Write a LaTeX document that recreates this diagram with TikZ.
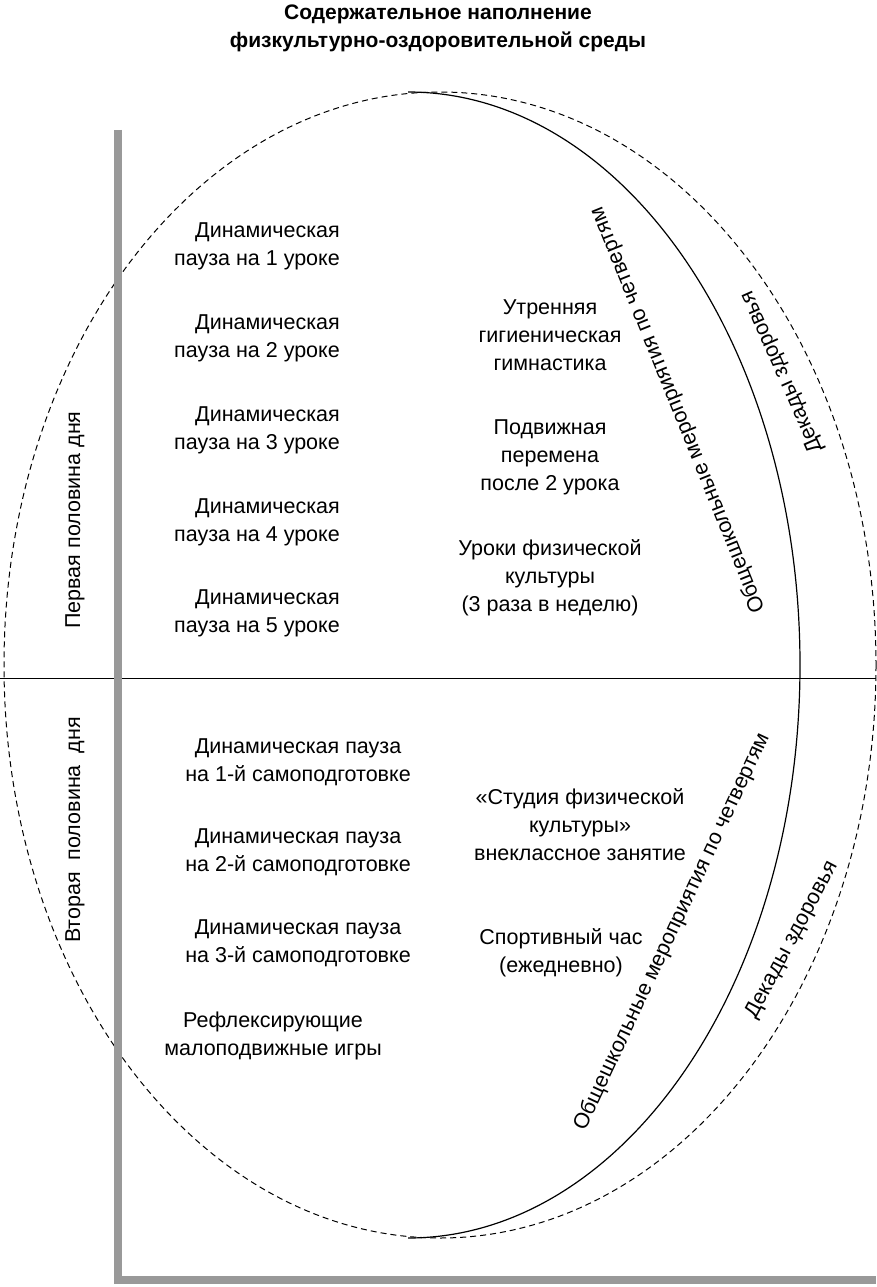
\documentclass[tikz,border=0pt]{standalone}
\usepackage{fontspec}
\setmainfont{Liberation Sans}
\begin{document}
\begin{tikzpicture}[x=1pt,y=-1pt,
 txt/.style={font=\fontsize{21.5}{28}\selectfont,align=center,inner sep=0pt},
 rtxt/.style={font=\fontsize{21.5}{28}\selectfont,align=right,inner sep=0pt,anchor=east},
 bar/.style={draw=gray!80,line width=8pt}]
\useasboundingbox (0,0) rectangle (876,1287);
\node[txt,font=\fontsize{21}{28}\selectfont\bfseries] (title) at (438,28) {Содержательное наполнение\\физкультурно-оздоровительной среды};
\draw[dashed,line width=1pt,dash pattern=on 6pt off 4pt] (440,665) ellipse [x radius=436, y radius=573];
\draw[line width=1.2pt] (408,92) arc [start angle=-90, end angle=90, x radius=392, y radius=573];
\draw[line width=1pt] (0,678) -- (876,678);
\coordinate (vt) at (118,130); \coordinate (vb) at (118,1280); \coordinate (hr) at (876,1280);
\draw[bar] (vt) -- (vb) -- (hr);
\node[txt,rotate=90] (p1) at (75,520) {Первая половина дня};
\node[txt,rotate=90] (p2) at (75,830) {Вторая \ половина \ дня};
\node[rtxt] (d1) at (340,246) {Динамическая\\пауза на 1 уроке};
\node[rtxt] (d2) at (340,338) {Динамическая\\пауза на 2 уроке};
\node[rtxt] (d3) at (340,430) {Динамическая\\пауза на 3 уроке};
\node[rtxt] (d4) at (340,522) {Динамическая\\пауза на 4 уроке};
\node[rtxt] (d5) at (340,613) {Динамическая\\пауза на 5 уроке};
\node[txt] (s1) at (298,762) {Динамическая пауза\\на 1-й самоподготовке};
\node[txt] (s2) at (298,852) {Динамическая пауза\\на 2-й самоподготовке};
\node[txt] (s3) at (298,943) {Динамическая пауза\\на 3-й самоподготовке};
\node[txt] (r) at (273,1036) {Рефлексирующие\\малоподвижные игры};
\node[txt] (m1) at (550,335) {Утренняя\\гигиеническая\\гимнастика};
\node[txt] (m2) at (550,457) {Подвижная\\перемена\\после 2 урока};
\node[txt] (m3) at (550,578) {Уроки физической\\культуры\\(3 раза в неделю)};
\node[txt] (m4) at (580,825) {«Студия физической\\культуры»\\внеклассное занятие};
\node[txt] (m5) at (561,953) {Спортивный час\\(ежедневно)};
\node[txt,rotate=112] (o1) at (678,410) {Общешкольные мероприятия по четвертям};
\node[txt,rotate=114] (k1) at (782,372) {Декады здоровья};
\node[txt,rotate=65] (o2) at (672,932) {Общешкольные мероприятия по четвертям};
\node[txt,rotate=62] (k2) at (792,940) {Декады здоровья};
\end{tikzpicture}
\end{document}
